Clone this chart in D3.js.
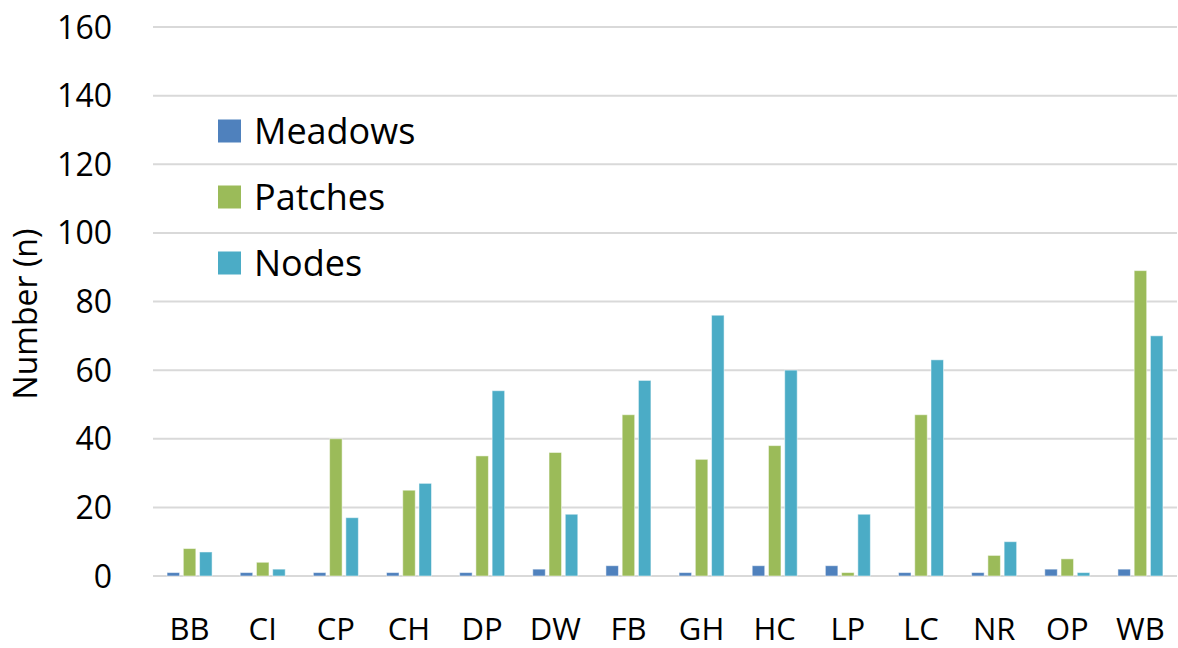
<!DOCTYPE html>
<meta charset="utf-8">
<style>
  body { margin: 0; background: #fff; }
  text { font-family: "Open Sans", Lato, sans-serif; fill: #000; }
</style>
<script src="https://d3js.org/d3.v7.min.js"></script>
<div id="chart"></div>
<script>
// data
var sites = ["BB", "CI", "CP", "CH", "DP", "DW", "FB", "GH", "HC", "LP", "LC", "NR", "OP", "WB"];
var seriesNames = ["Meadows", "Patches", "Nodes"];
var meadows = [1, 1, 1, 1, 1, 2, 3, 1, 3, 3, 1, 1, 2, 2];
var patches = [8, 4, 40, 25, 35, 36, 47, 34, 38, 1, 47, 6, 5, 89];
var nodes   = [7, 2, 17, 27, 54, 18, 57, 76, 60, 18, 63, 10, 1, 70];
var yTicks = [0, 20, 40, 60, 80, 100, 120, 140, 160];
var colors = ["#4f81bd", "#9bbb59", "#4bacc6"];

var values = [meadows, patches, nodes];
var rows = sites.map(function(s, i) {
  return { site: s, vals: seriesNames.map(function(n, j) { return { name: n, v: values[j][i], j: j }; }) };
});

var W = 1178, H = 648;
// plot area (note: "top" would clash with window.top)
var plot = { left: 153, right: 1177, top: 27, bottom: 576 };

var svg = d3.select("#chart").append("svg")
  .attr("width", W).attr("height", H);

var x0 = d3.scaleBand().domain(sites).range([plot.left, plot.right]);
var groupW = 45;
var x1 = d3.scaleBand().domain(seriesNames)
  .range([(x0.bandwidth() - groupW) / 2, (x0.bandwidth() + groupW) / 2])
  .paddingInner(0.23);
var y = d3.scaleLinear().domain([0, 160]).range([plot.bottom, plot.top]);

// gridlines
svg.append("g")
  .selectAll("line")
  .data(yTicks)
  .enter().append("line")
    .attr("x1", plot.left).attr("x2", plot.right)
    .attr("y1", function(d) { return y(d); })
    .attr("y2", function(d) { return y(d); })
    .attr("stroke", "#d9d9d9")
    .attr("stroke-width", 2);

// y tick labels
svg.append("g")
  .selectAll("text")
  .data(yTicks)
  .enter().append("text")
    .attr("x", 112)
    .attr("y", function(d) { return y(d); })
    .attr("dy", "0.36em")
    .attr("text-anchor", "end")
    .style("font-size", "32px")
    .text(function(d) { return d; });

// bars
var groups = svg.append("g")
  .selectAll("g")
  .data(rows)
  .enter().append("g")
    .attr("transform", function(d) { return "translate(" + x0(d.site) + ",0)"; });

groups.selectAll("rect")
  .data(function(d) { return d.vals; })
  .enter().append("rect")
    .attr("x", function(d) { return x1(d.name); })
    .attr("width", x1.bandwidth())
    .attr("y", function(d) { return y(d.v); })
    .attr("height", function(d) { return y(0) - y(d.v); })
    .attr("fill", function(d) { return colors[d.j]; })
    .attr("stroke", "#ffffff")
    .attr("stroke-opacity", 0.5)
    .attr("stroke-width", 1);

// x labels
svg.append("g")
  .selectAll("text")
  .data(sites)
  .enter().append("text")
    .attr("x", function(d) { return x0(d) + x0.bandwidth() / 2; })
    .attr("y", 640)
    .attr("text-anchor", "middle")
    .style("font-size", "31px")
    .text(function(d) { return d; });

// y title
svg.append("text")
  .attr("transform", "translate(37,314) rotate(-90)")
  .attr("text-anchor", "middle")
  .style("font-size", "32px")
  .text("Number (n)");

// legend
var legend = svg.append("g")
  .selectAll("g")
  .data(seriesNames)
  .enter().append("g")
    .attr("transform", function(d, i) { return "translate(218," + (131 + i * 66) + ")"; });

legend.append("rect")
  .attr("x", 0).attr("y", -11.5)
  .attr("width", 23).attr("height", 23)
  .attr("fill", function(d, i) { return colors[i]; });

legend.append("text")
  .attr("x", 36)
  .attr("dy", "0.36em")
  .style("font-size", "36px")
  .text(function(d) { return d; });
</script>
